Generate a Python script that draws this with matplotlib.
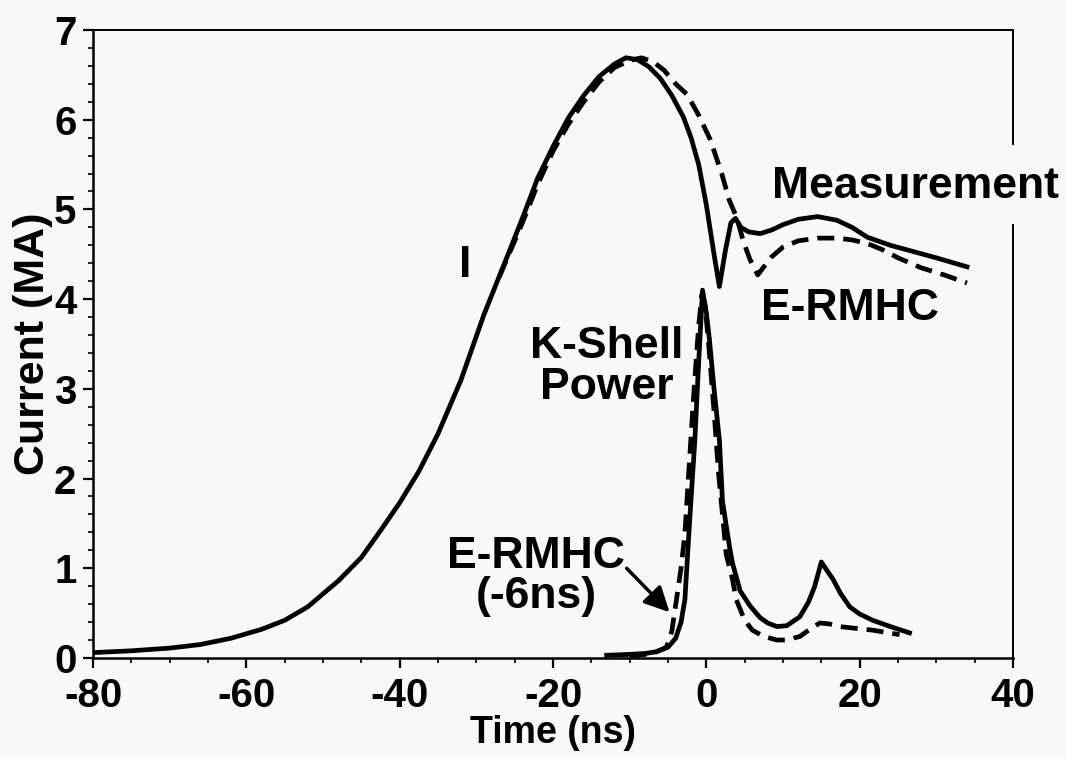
import numpy as np
import matplotlib
matplotlib.use("Agg")
from matplotlib import pyplot as plt
from matplotlib.ticker import MultipleLocator

# measured load current (MA) vs time (ns)
t_meas = [-80, -75, -70, -66, -62, -58, -55, -52, -48, -45, -42.5, -40, -37.5, -35,
          -32, -29, -26, -24, -22, -20, -18, -16, -14, -12, -10.5, -9, -7.5, -6,
          -4.5, -3, -2, -1, 0, 1, 1.7, 2.5, 3.2, 3.8, 4.5, 5.5, 7, 8.5, 10, 12,
          14.5, 17, 19, 21, 24, 27, 30, 32, 34]
i_meas = [0.06, 0.08, 0.11, 0.15, 0.22, 0.32, 0.42, 0.57, 0.86, 1.12, 1.42, 1.73, 2.08, 2.50,
          3.10, 3.83, 4.47, 4.90, 5.35, 5.70, 6.02, 6.27, 6.48, 6.62, 6.69, 6.67, 6.59, 6.46,
          6.27, 6.03, 5.80, 5.50, 5.05, 4.50, 4.14, 4.55, 4.85, 4.90, 4.80, 4.75, 4.73, 4.77, 4.83, 4.89,
          4.92, 4.88, 4.80, 4.69, 4.60, 4.53, 4.46, 4.41, 4.36]

# E-RMHC calculated current
t_calc = [-27, -24, -22, -20, -18, -16, -14, -12, -10, -8.5, -7, -5.5, -4, -2.5, -1, 0.5,
          2, 3, 4, 4.8, 5.7, 6.7, 7.5, 8.5, 10, 12, 14.5, 17, 19, 21, 23, 25, 28, 31, 34]
i_calc = [4.25, 4.85, 5.28, 5.65, 5.95, 6.20, 6.42, 6.58, 6.66, 6.69, 6.65, 6.55, 6.40, 6.28, 6.05, 5.78,
          5.40, 5.10, 4.90, 4.65, 4.44, 4.27, 4.36, 4.47, 4.58, 4.65, 4.68, 4.68, 4.66, 4.62, 4.55, 4.46, 4.35, 4.27, 4.18]

# measured K-shell power (arb. units on same axis)
t_ks = [-13, -10, -8, -6.5, -5, -4, -3.3, -2.8, -2.2, -1.5, -1, -0.5, 0, 0.4, 1, 1.7, 2.1,
        3, 3.4, 4.4, 5.7, 7, 8, 9.2, 10.5, 12.2, 13.3, 14.1, 15, 15.7, 16.5, 17.5, 18.7,
        20, 21.7, 24, 26.5]
p_ks = [0.03, 0.04, 0.05, 0.07, 0.12, 0.22, 0.40, 0.65, 1.5, 2.43, 3.3, 4.10, 3.85, 3.55, 3.0, 2.43, 1.75,
        1.25, 1.06, 0.75, 0.58, 0.45, 0.39, 0.35, 0.36, 0.46, 0.62, 0.79, 1.07, 0.98, 0.88, 0.72, 0.57,
        0.49, 0.42, 0.35, 0.28]

# E-RMHC K-shell power shifted by -6 ns
t_ks_calc = [-10, -7, -5.2, -4.5, -3.9, -3.3, -2.8, -2.2, -1.6, -1, -0.6, -0.2, 0.3, 1, 1.6, 2.6,
             3.4, 3.9, 5, 6, 7.5, 9.2, 10.5, 12.2, 13.5, 14.8, 16, 17.4, 19.5, 21.7, 25.2]
p_ks_calc = [0.02, 0.05, 0.12, 0.30, 0.65, 1.0, 1.39, 2.2, 3.0, 3.7, 4.05, 3.95, 3.5, 2.75, 2.05, 1.15,
             0.88, 0.65, 0.42, 0.31, 0.24, 0.20, 0.20, 0.24, 0.32, 0.39, 0.38, 0.35, 0.33, 0.31, 0.26]

bg = "#f8f8f8"
plt.rcParams["font.family"] = ["Liberation Sans", "DejaVu Sans"]
plt.rcParams["font.weight"] = "bold"
plt.rcParams["axes.labelweight"] = "bold"
plt.rcParams["axes.unicode_minus"] = False

fig = plt.figure(figsize=(10.67, 7.59), dpi=100, facecolor=bg)
ax = fig.add_axes([0.0872, 0.1331, 0.8622, 0.8274], facecolor=bg)

lw = 3.4
dash = (0, (3.6, 1.9))
ax.plot(t_meas, i_meas, color="black", lw=lw, solid_joinstyle="round")
ax.plot(t_calc, i_calc, color="black", lw=lw, linestyle=dash)
ax.plot(t_ks, p_ks, color="black", lw=lw, solid_joinstyle="round")
ax.plot(t_ks_calc, p_ks_calc, color="black", lw=lw, linestyle=dash)

ax.set_xlim(-80, 40)
ax.set_ylim(0, 7)
ax.xaxis.set_major_locator(MultipleLocator(20))
ax.xaxis.set_minor_locator(MultipleLocator(5))
ax.yaxis.set_major_locator(MultipleLocator(1))
ax.yaxis.set_minor_locator(MultipleLocator(0.2))
ax.tick_params(which="major", direction="out", length=7, width=1.6, labelsize=29, pad=5)
ax.tick_params(which="minor", direction="out", length=3.5, width=1.2)
ax.tick_params(axis="x", which="major", pad=7)

for s in ["left", "bottom"]:
    ax.spines[s].set_linewidth(1.8)
ax.spines["top"].set_linewidth(1.4)
# right border is interrupted by the "Measurement" label
ax.spines["right"].set_bounds(0, 4.83)
ax.spines["right"].set_linewidth(1.4)
ax.plot([1, 1], [5.72, 7], transform=ax.get_yaxis_transform(), clip_on=False,
        color="black", lw=1.4, solid_capstyle="butt")

ax.set_xlabel("Time (ns)", fontsize=27, labelpad=0)
ax.set_ylabel("Current (MA)", fontsize=31, labelpad=1)

fs = 32
ax.text(27.3, 5.26, "Measurement", fontsize=fs, ha="center", va="center", clip_on=False)
ax.text(-31.4, 4.38, "I", fontsize=fs, ha="center", va="center")
ax.text(-13.0, 3.24, "K-Shell\nPower", fontsize=fs, ha="center", va="center", linespacing=1.0)
ax.text(18.7, 3.90, "E-RMHC", fontsize=fs, ha="center", va="center")
ax.text(-22.2, 0.91, "E-RMHC\n(-6ns)", fontsize=fs, ha="center", va="center", linespacing=0.95)
ax.annotate("", xy=(-4.8, 0.51), xytext=(-10.4, 1.0),
            arrowprops=dict(arrowstyle="-|>", color="black", lw=2.5, mutation_scale=38,
                            shrinkA=0, shrinkB=0))

fig.savefig("out.png", dpi=100, facecolor=bg)
